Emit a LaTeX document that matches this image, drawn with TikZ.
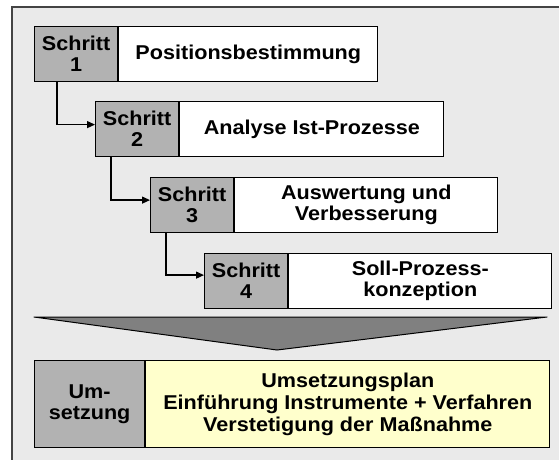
\documentclass[tikz,border=0pt]{standalone}
\usepackage{fontspec}
\setmainfont{Liberation Sans}[FakeStretch=1.08]
\usetikzlibrary{arrows.meta}
\definecolor{bgc}{HTML}{EAEAEA}
\definecolor{stepgrey}{HTML}{B2B2B2}
\definecolor{trigrey}{HTML}{808080}
\definecolor{framec}{HTML}{444444}
\definecolor{planyellow}{HTML}{FFFFCC}
\tikzset{
  txt/.style={font=\fontsize{20}{21}\selectfont\bfseries, align=center, inner sep=0pt},
  greybox/.style={txt, draw=black, line width=1.2pt, fill=stepgrey, anchor=north west, minimum width=83pt, minimum height=55pt},
  whitebox/.style={txt, draw=black, line width=1.2pt, fill=white, anchor=north west, minimum height=55pt},
  arr/.style={line width=1.3pt, -{Triangle[length=8pt,width=7pt]}}
}
\begin{document}
\begin{tikzpicture}[x=1pt,y=-1pt]
\useasboundingbox (0,0) rectangle (559,459);
\fill[bgc] (12,7) rectangle (570,470);
\draw[framec, line width=2pt] (12,470) -- (12,7) -- (570,7);
% steps
\node[greybox] (s1g) at (34,26) {Schritt\\1};
\node[whitebox, minimum width=259pt] (s1w) at (s1g.north east) {Positionsbestimmung};
\node[greybox] (s2g) at (95,101) {Schritt\\2};
\node[whitebox, minimum width=264pt] (s2w) at (s2g.north east) {Analyse Ist-Prozesse};
\node[greybox] (s3g) at (150,177) {Schritt\\3};
\node[whitebox, minimum width=263pt] (s3w) at (s3g.north east) {Auswertung und\\Verbesserung};
\node[greybox] (s4g) at (204,253) {Schritt\\4};
\node[whitebox, minimum width=263pt] (s4w) at (s4g.north east) {Soll-Prozess-\\konzeption};
% arrows
\draw[arr] ([xshift=23pt]s1g.south west) |- ([yshift=4.5pt]s2g.west);
\draw[arr] ([xshift=16pt]s2g.south west) |- ([yshift=5pt]s3g.west);
\draw[arr] ([xshift=16pt]s3g.south west) |- ([yshift=6pt]s4g.west);
% funnel triangle
\coordinate (tl) at (34,317);
\coordinate (tr) at (547,317);
\coordinate (tb) at (277,350);
\filldraw[fill=trigrey, draw=black, line width=1pt, line join=round] (tl) -- (tr) -- (tb) -- cycle;
% bottom
\node[greybox, minimum width=110pt, minimum height=87pt] (ug) at (34,360) {Um-\\setzung};
\node[whitebox, fill=planyellow, minimum width=404pt, minimum height=87pt, font=\fontsize{20}{22}\selectfont\bfseries] (uy) at (ug.north east) {Umsetzungsplan\\Einführung Instrumente + Verfahren\\Verstetigung der Maßnahme};
\end{tikzpicture}
\end{document}
